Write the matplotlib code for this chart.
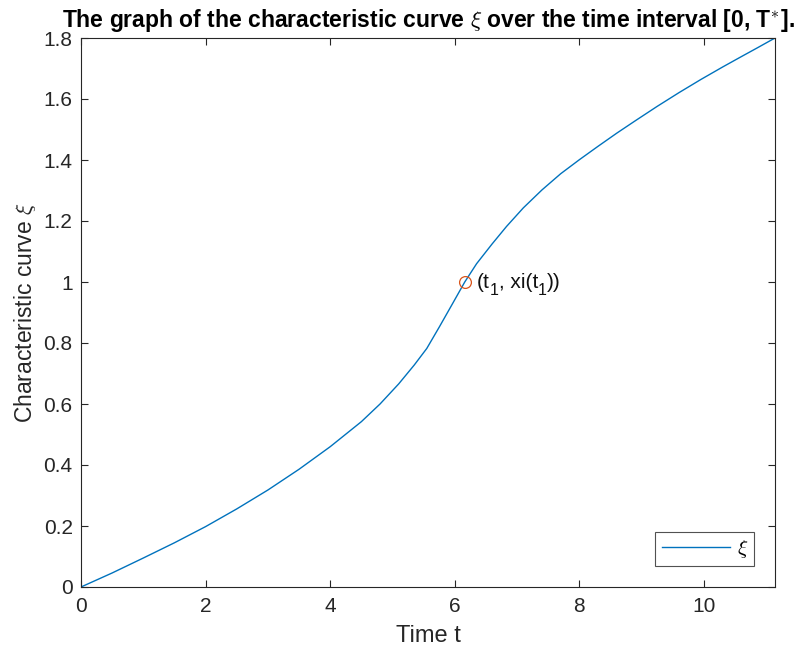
import matplotlib
matplotlib.use("Agg")
import matplotlib.pyplot as plt
from matplotlib.transforms import offset_copy

plt.rcParams['font.family'] = ['Liberation Sans', 'DejaVu Sans']
plt.rcParams['mathtext.fontset'] = 'cm'

# data
t_vals = [0, 0.5, 1, 1.5, 2, 2.5, 3, 3.5, 4, 4.5, 4.8, 5.1, 5.35, 5.55, 5.75,
          5.95, 6.16, 6.35, 6.6, 6.83, 7.1, 7.4, 7.7, 8.0, 8.3, 8.6, 8.9, 9.25,
          9.6, 9.95, 10.3, 10.6, 10.85, 11.14]
xi_vals = [0, 0.046, 0.095, 0.145, 0.198, 0.256, 0.318, 0.386, 0.46, 0.542, 0.600,
           0.666, 0.728, 0.782, 0.852, 0.924, 1.0, 1.06, 1.125, 1.182, 1.243, 1.302,
           1.355, 1.401, 1.445, 1.488, 1.529, 1.576, 1.621, 1.664, 1.705, 1.739,
           1.767, 1.80]
t1 = 6.16
xi1 = 1.0
x_ticks = [0, 2, 4, 6, 8, 10]
y_ticks = [0, 0.2, 0.4, 0.6, 0.8, 1, 1.2, 1.4, 1.6, 1.8]
y_tick_labels = ['0', '0.2', '0.4', '0.6', '0.8', '1', '1.2', '1.4', '1.6', '1.8']
annot_parts = [('(t', False), ('1', True), (', xi(t', False), ('1', True), ('))', False)]

fig = plt.figure(figsize=(8.06, 6.56), dpi=100)
ax = fig.add_axes([81/806, 1-587/656, (775-81)/806, (587-38)/656])

ax.plot(t_vals, xi_vals, color='#0072BD', lw=1.0, label=r'$\xi$')
ax.plot([t1], [xi1], 'o', mfc='none', mec='#D95319', ms=8.5, mew=0.9)

ax.set_xlim(0, t_vals[-1])
ax.set_ylim(0, 1.8)
ax.set_xticks(x_ticks)
ax.set_yticks(y_ticks)
ax.set_yticklabels(y_tick_labels)
ax.tick_params(direction='in', length=5, width=0.8, colors='#262626', labelsize=15,
               top=True, right=True)
ax.tick_params(axis='x', pad=7)
ax.tick_params(axis='y', pad=6)
for s in ax.spines.values():
    s.set_color('#262626')
    s.set_linewidth(0.8)

ax.set_xlabel('Time t', fontsize=17, color='#262626', labelpad=7)
ax.set_ylabel(r'Characteristic curve $\xi$', fontsize=16.5, color='#262626', labelpad=4)
ax.set_title(r'The graph of the characteristic curve $\xi$ over the time interval [0, T$^{*}$].',
             fontsize=16.5, fontweight='bold', pad=8)

leg = ax.legend(loc='lower right', fontsize=15, frameon=True, fancybox=False,
                edgecolor='#262626', handlelength=3.3, borderaxespad=1.0,
                borderpad=0.3, handletextpad=0.3)
leg.get_frame().set_linewidth(0.8)

# annotation with MATLAB-style subscripts, pieces placed one after another
fig.canvas.draw()
renderer = fig.canvas.get_renderer()
xoff = 12.0
for txt, is_sub in annot_parts:
    size = 11.5 if is_sub else 15
    dy = -13 if is_sub else -6
    tr = offset_copy(ax.transData, fig=fig, x=xoff, y=dy, units='dots')
    tobj = ax.text(t1, xi1, txt, fontsize=size, va='baseline', ha='left',
                   color='#111111', transform=tr)
    bb = tobj.get_window_extent(renderer)
    xoff += bb.width

fig.savefig('out.png', dpi=100)
